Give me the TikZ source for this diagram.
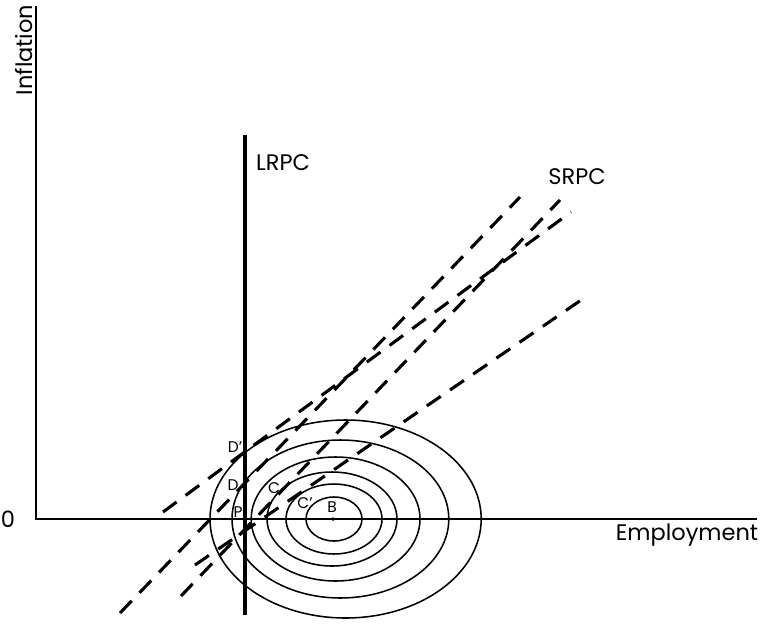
\documentclass[tikz,border=0pt]{standalone}
\usepackage{fontspec}
\setmainfont{Poppins}
\usetikzlibrary{arrows.meta,calc}
\begin{document}
\begin{tikzpicture}[
  every node/.style={font=\fontsize{16}{19}\selectfont},
  tag/.style={font=\fontsize{11}{13}\selectfont,inner sep=0pt},
  axis/.style={line width=1pt},
  curve/.style={line width=1.1pt},
  srpc/.style={line width=2.2pt,dash pattern=on 12pt off 8pt},
  dot/.style={circle,fill=black,inner sep=1pt}
]
\useasboundingbox (-0.9,-2.6) rectangle (18.275,12.975);
\coordinate (O) at (0,0);
\coordinate (X) at (18.03,0);
\coordinate (Y) at (0,12.83);
\coordinate (L0) at (5.225,-2.4);
\coordinate (L1) at (5.225,9.6);
\draw[axis] (Y) -- (O) -- (X);
\draw[line width=2.8pt] (L0) -- (L1);
% indifference curves round B
\foreach \cx/\rx/\ry in {7.45/0.7/0.55,7.45/1.2/0.875,7.4/1.625/1.175,
                          7.49/2.11/1.55,7.61/2.71/1.975,7.74/3.39/2.475}
  \draw[curve] (\cx,0) ellipse [x radius=\rx,y radius=\ry];
% short-run curves
\coordinate (A0) at (2.1,-2.35);   \coordinate (A1) at (12.1,8.05);
\coordinate (R0) at (3.625,-1.925); \coordinate (R1) at (13.1,7.975);
\coordinate (Q0) at (3.175,0.175);  \coordinate (Q1) at (13.375,7.675);
\coordinate (S0) at (3.975,-1.15);  \coordinate (S1) at (13.775,5.575);
\draw[srpc] (A0) -- (A1);
\draw[srpc] (R0) -- (R1);
\draw[srpc] (Q0) -- (Q1);
\draw[srpc] (S0) -- (S1);
\node[dot] (B) at (7.425,0) {};
\node (zero) at (-0.7,0) {0};
\node[rotate=90] (infl) at (-0.31,11.725) {Inflation};
\node (empl) at (16.275,-0.4) {Employment};
\node (lrpc) at (6.175,8.9) {LRPC};
\node (srpclab) at (13.525,8.55) {SRPC};
\foreach \n/\x/\y/\lab in {dd/4.975/1.8/D’,d/4.925/0.85/D,p/5.05/0.175/P,
                           c/5.95/0.775/C,cc/6.725/0.4/C’,b/7.4/0.3/B}
  \node[tag] (\n) at (\x,\y) {\lab};
\end{tikzpicture}
\end{document}
